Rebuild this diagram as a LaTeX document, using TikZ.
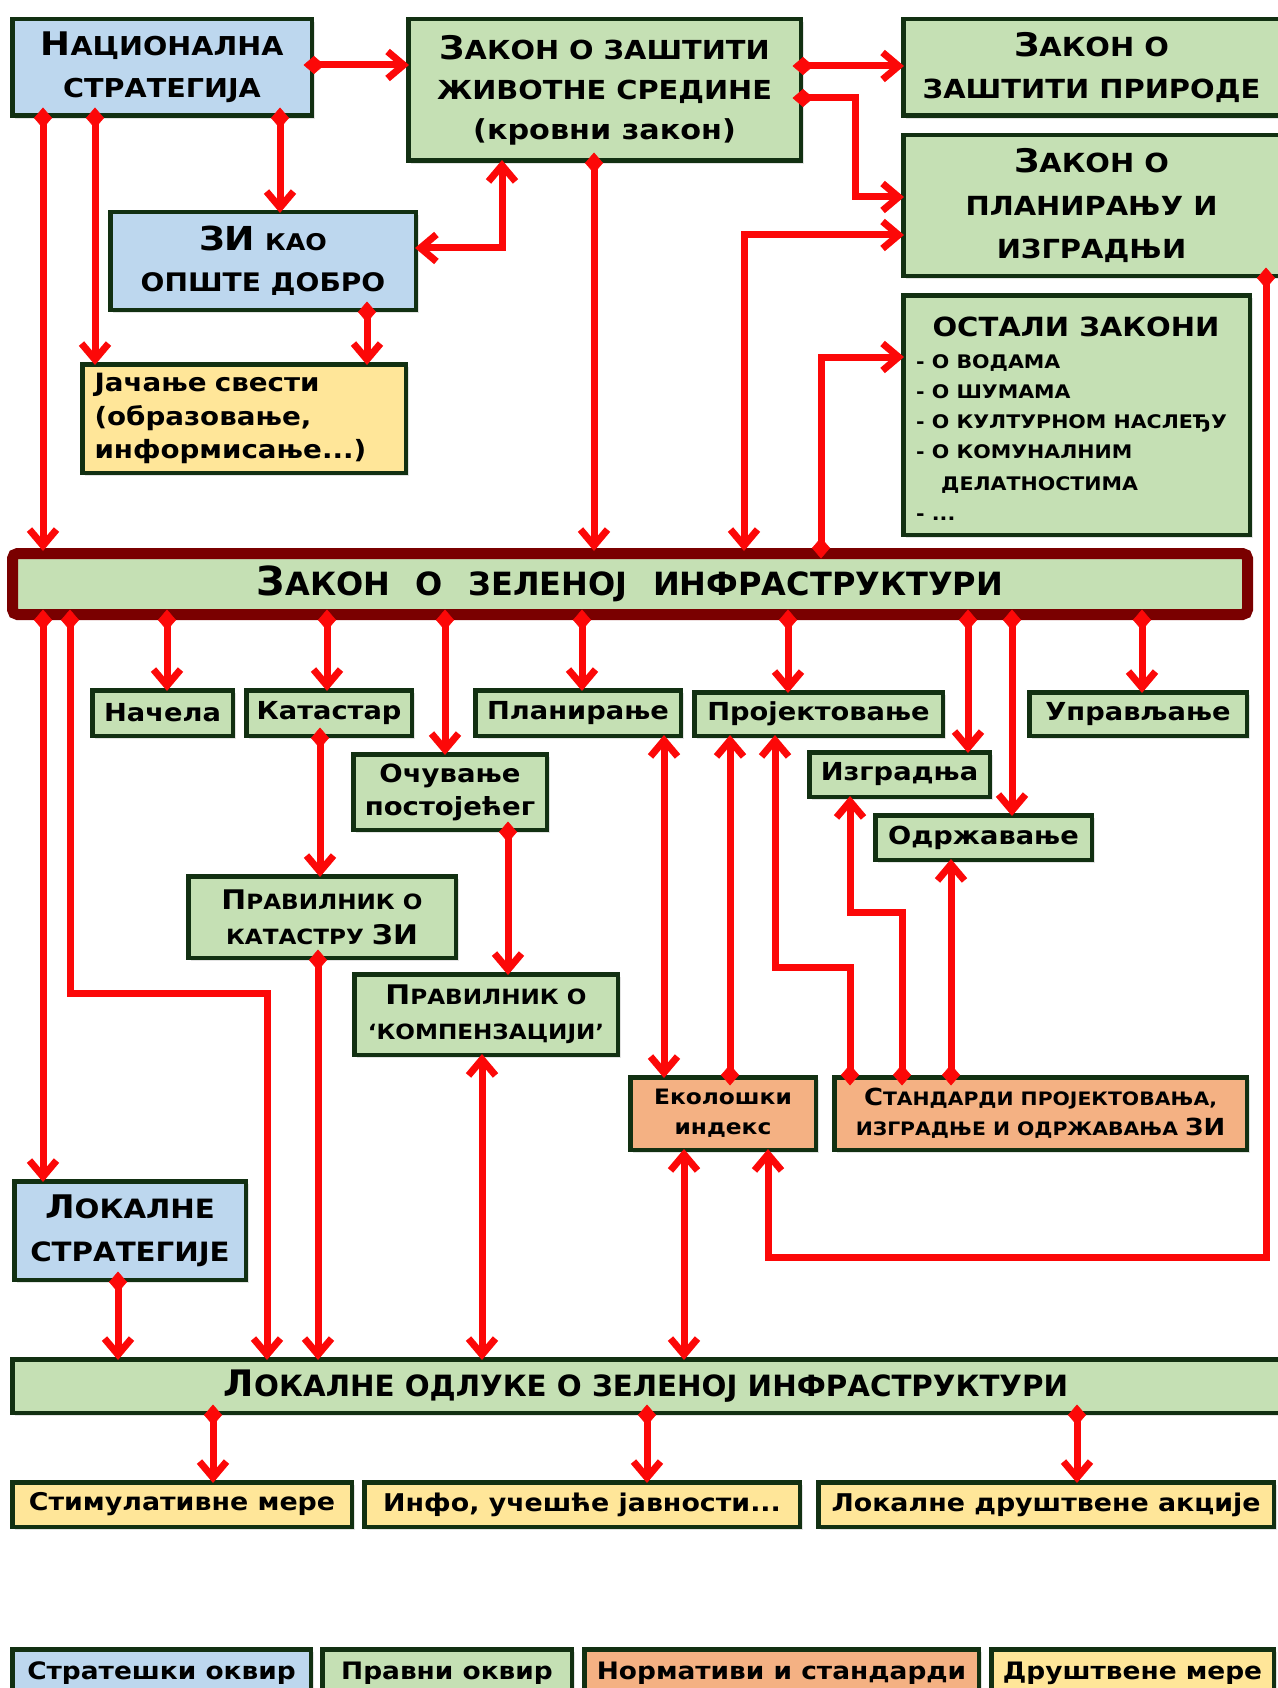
\documentclass[tikz,border=0pt]{standalone}
\usepackage{fontspec}
\setmainfont{DejaVu Sans}[FakeStretch=1.1]
\newfontfamily\nstr{DejaVu Sans}
\usetikzlibrary{arrows.meta,shadows}
\definecolor{cblue}{RGB}{189,215,238}
\definecolor{cgreen}{RGB}{197,224,180}
\definecolor{corange}{RGB}{244,177,131}
\definecolor{cyellow}{RGB}{255,230,153}
\definecolor{cborder}{RGB}{18,48,18}
\definecolor{cred}{RGB}{252,8,8}
\definecolor{cmaroon}{RGB}{122,0,0}
\newcommand\fs[2]{\fontsize{#1}{#2}\selectfont}
\newcommand\BX[7]{%
  \pgfmathsetmacro\bxcx{(#2+#4)/2}%
  \pgfmathsetmacro\bxcy{(#3+#5)/2}%
  \pgfmathsetmacro\bxw{#4-#2-4.5}%
  \pgfmathsetmacro\bxh{#5-#3-4.5}%
  \node[box,#6,minimum width=\bxw pt,minimum height=\bxh pt] (#1) at (\bxcx,\bxcy) {#7};}
\begin{document}
\begin{tikzpicture}[x=1pt,y=-1pt,
  box/.style={draw=cborder,line width=4.5pt,inner sep=0pt,align=center,
    drop shadow={shadow xshift=3pt,shadow yshift=-3pt,opacity=0.22}},
  fblue/.style={fill=cblue},
  fgreen/.style={fill=cgreen},
  forange/.style={fill=corange},
  fyellow/.style={fill=cyellow},
  tipB/.tip={Straight Barb[length=16pt,width=27pt]},
  tipD/.tip={Diamond[length=21pt,width=18pt,line width=0.5pt]},
  con/.style={draw=cred,line width=7pt},
  da/.style={con,tipD-tipB,shorten <=-10.5pt,shorten >=-3pt},
  ba/.style={con,tipB-tipB,shorten <=-3pt,shorten >=-3pt},
  txt/.style={inner sep=0pt,font=\bfseries}
]
\useasboundingbox (0,0) rectangle (1277,1688);

% ---------- top area ----------
\BX{nat}{10}{17}{314}{118}{fblue,font=\bfseries\fs{26}{42}}{{\fs{32.5}{42}Н}АЦИОНАЛНА\\СТРАТЕГИЈА}
\BX{zzzs}{406}{17}{803}{163}{fgreen,font=\bfseries\fs{26.2}{40}}{{\fs{32.5}{40}З}АКОН О ЗАШТИТИ\\ЖИВОТНЕ СРЕДИНЕ\\{\fs{27.5}{40}(кровни закон)}}
\BX{zzp}{901}{17}{1282}{118}{fgreen,font=\bfseries\fs{26.3}{42}}{{\fs{32.5}{42}З}АКОН О\\ЗАШТИТИ ПРИРОДЕ}
\BX{zpi}{901}{133}{1282}{278}{fgreen,font=\bfseries\fs{26.3}{43}}{{\fs{32.5}{43}З}АКОН О\\ПЛАНИРАЊУ И\\ИЗГРАДЊИ}
\BX{ost}{901}{293}{1252}{537}{fgreen}{}
\BX{zidob}{108}{210}{418}{312}{fblue,font=\bfseries\fs{25.5}{41}}{{\fs{33}{41}ЗИ} {\fs{23}{41}КАО}\\ОПШТЕ ДОБРО}
\BX{jac}{80}{362}{408}{475}{fyellow,align=left,text width=299pt,inner xsep=12pt,font=\bfseries\fs{25.2}{33.5}}{Јачање свести\\(образовање,\\информисање...)}

\node[txt,font=\bfseries\fs{26.4}{30},anchor=base] (ost0) at (1076,336) {ОСТАЛИ ЗАКОНИ};
\node[txt,font=\bfseries\fs{18.7}{30},anchor=base west] (ost1) at (916,368) {- О ВОДАМА};
\node[txt,font=\bfseries\fs{18.7}{30},anchor=base west] (ost2) at (916,398) {- О ШУМАМА};
\node[txt,font=\bfseries\fs{18.7}{30},anchor=base west] (ost3) at (916,428) {- О КУЛТУРНОМ НАСЛЕЂУ};
\node[txt,font=\bfseries\fs{18.7}{30},anchor=base west] (ost4) at (916,458) {- О КОМУНАЛНИМ};
\node[txt,font=\bfseries\fs{18.7}{30},anchor=base west] (ost5) at (941,490) {ДЕЛАТНОСТИМА};
\node[txt,font=\bfseries\fs{18.7}{30},anchor=base west] (ost6) at (916,520) {- ...};

% ---------- main bar ----------
\node[draw=cmaroon,line width=11pt,fill=cgreen,rounded corners=5pt,inner sep=0pt,
  minimum width=1235pt,minimum height=61pt,font=\nstr\bfseries\fs{32}{40},
  drop shadow={shadow xshift=3pt,shadow yshift=-3pt,opacity=0.22}] (zzi) at (630,584)
  {{\fs{40}{40}З}АКОН\hspace{0.8em}О\hspace{0.8em}ЗЕЛЕНОЈ\hspace{0.8em}ИНФРАСТРУКТУРИ};

% ---------- children ----------
\BX{nac}{90}{688}{235}{738}{fgreen,font=\bfseries\fs{24.8}{30}}{Начела}
\BX{kat}{244}{688}{414}{738}{fgreen,font=\bfseries\fs{24.8}{30}}{Катастар}
\BX{pla}{473}{688}{683}{738}{fgreen,font=\bfseries\fs{24.8}{30}}{Планирање}
\BX{pro}{692}{690}{945}{738}{fgreen,font=\bfseries\fs{24.8}{30}}{Пројектовање}
\BX{upr}{1027}{690}{1249}{738}{fgreen,font=\bfseries\fs{24.8}{30}}{Управљање}
\BX{izg}{807}{750}{992}{799}{fgreen,font=\bfseries\fs{24.8}{30}}{Изградња}
\BX{odr}{873}{813}{1094}{862}{fgreen,font=\bfseries\fs{24.8}{30}}{Одржавање}
\BX{ocu}{351}{752}{549}{832}{fgreen,font=\bfseries\fs{25}{33}}{Очување\\постојећег}
\BX{prk}{186}{874}{458}{960}{fgreen,font=\bfseries\fs{21}{35}}{{\fs{27}{35}П}РАВИЛНИК О\\КАТАСТРУ {\fs{27}{35}ЗИ}}
\BX{prc}{352}{972}{620}{1057}{fgreen,font=\bfseries\fs{21}{35}}{{\fs{27}{35}П}РАВИЛНИК О\\‘КОМПЕНЗАЦИЈИ’}
\BX{eko}{628}{1075}{818}{1152}{forange,font=\bfseries\fs{21.2}{30}}{Еколошки\\индекс}
\BX{std}{832}{1075}{1249}{1152}{forange,font=\bfseries\fs{18.5}{30}}{{\fs{23.5}{30}С}ТАНДАРДИ ПРОЈЕКТОВАЊА,\\ИЗГРАДЊЕ И ОДРЖАВАЊА {\fs{23.5}{30}ЗИ}}
\BX{lstr}{12}{1179}{248}{1282}{fblue,font=\bfseries\fs{26.6}{43}}{{\fs{32.5}{43}Л}ОКАЛНЕ\\СТРАТЕГИЈЕ}

% ---------- local ----------
\BX{lod}{10}{1357}{1282}{1415}{fgreen,font=\nstr\bfseries\fs{29.3}{32}}{{\fs{36.5}{32}Л}ОКАЛНЕ ОДЛУКЕ О ЗЕЛЕНОЈ ИНФРАСТРУКТУРИ}
\BX{stim}{10}{1480}{354}{1529}{fyellow,font=\bfseries\fs{24.4}{30}}{Стимулативне мере}
\BX{info}{362}{1480}{802}{1529}{fyellow,font=\bfseries\fs{24.4}{30}}{Инфо, учешће јавности...}
\BX{lda}{816}{1480}{1276}{1529}{fyellow,font=\bfseries\fs{24.4}{30}}{Локалне друштвене акције}

% ---------- legend ----------
\BX{lg1}{10}{1647}{313}{1700}{fblue,font=\bfseries\fs{24}{30}}{Стратешки оквир}
\BX{lg2}{320}{1647}{574}{1700}{fgreen,font=\bfseries\fs{24}{30}}{Правни оквир}
\BX{lg3}{582}{1647}{981}{1700}{forange,font=\bfseries\fs{24}{30}}{Нормативи и стандарди}
\BX{lg4}{989}{1647}{1276}{1700}{fyellow,font=\bfseries\fs{24}{30}}{Друштвене мере}

% ---------- connectors ----------
\draw[da] (nat.east |- 0,65) -- (zzzs.west |- 0,65);
\draw[da] (43,0 |- nat.south) -- (43,0 |- zzi.north);
\draw[da] (95,0 |- nat.south) -- (95,0 |- jac.north);
\draw[da] (280,0 |- nat.south) -- (280,0 |- zidob.north);
\draw[ba] (502,0 |- zzzs.south) |- (zidob.east |- 0,248);
\draw[da] (594,0 |- zzzs.south) -- (594,0 |- zzi.north);
\draw[da] (zzzs.east |- 0,66) -- (zzp.west |- 0,66);
\draw[da] (zzzs.east |- 0,98) -| (855,197) -- (zpi.west |- 0,197);
\draw[ba] (744,0 |- zzi.north) |- (zpi.west |- 0,235);
\draw[da] (821,0 |- zzi.north) |- (ost.west |- 0,357);
\draw[da] (367,0 |- zidob.south) -- (367,0 |- jac.north);
\draw[da] (1266,0 |- zpi.south) |- (768,1257) -- (768,0 |- eko.south);

\draw[da] (43,0 |- zzi.south) -- (43,0 |- lstr.north);
\draw[da] (70,0 |- zzi.south) |- (267,993) -- (267,0 |- lod.north);
\draw[da] (167,0 |- zzi.south) -- (167,0 |- nac.north);
\draw[da] (327,0 |- zzi.south) -- (327,0 |- kat.north);
\draw[da] (445,0 |- zzi.south) -- (445,0 |- ocu.north);
\draw[da] (582,0 |- zzi.south) -- (582,0 |- pla.north);
\draw[da] (788,0 |- zzi.south) -- (788,0 |- pro.north);
\draw[da] (968,0 |- zzi.south) -- (968,0 |- izg.north);
\draw[da] (1012,0 |- zzi.south) -- (1012,0 |- odr.north);
\draw[da] (1142,0 |- zzi.south) -- (1142,0 |- upr.north);

\draw[da] (320,0 |- kat.south) -- (320,0 |- prk.north);
\draw[da] (318,0 |- prk.south) -- (318,0 |- lod.north);
\draw[da] (508,0 |- ocu.south) -- (508,0 |- prc.north);
\draw[ba] (482,0 |- prc.south) -- (482,0 |- lod.north);
\draw[ba] (664,0 |- pla.south) -- (664,0 |- eko.north);
\draw[da] (730,0 |- eko.north) -- (730,0 |- pro.south);
\draw[da] (850,0 |- std.north) |- (775,967) -- (775,0 |- pro.south);
\draw[da] (902,0 |- std.north) |- (850,912) -- (850,0 |- izg.south);
\draw[da] (951,0 |- std.north) -- (951,0 |- odr.south);
\draw[ba] (684,0 |- eko.south) -- (684,0 |- lod.north);
\draw[da] (118,0 |- lstr.south) -- (118,0 |- lod.north);

\draw[da] (213,0 |- lod.south) -- (213,0 |- stim.north);
\draw[da] (647,0 |- lod.south) -- (647,0 |- info.north);
\draw[da] (1077,0 |- lod.south) -- (1077,0 |- lda.north);
\end{tikzpicture}
\end{document}
